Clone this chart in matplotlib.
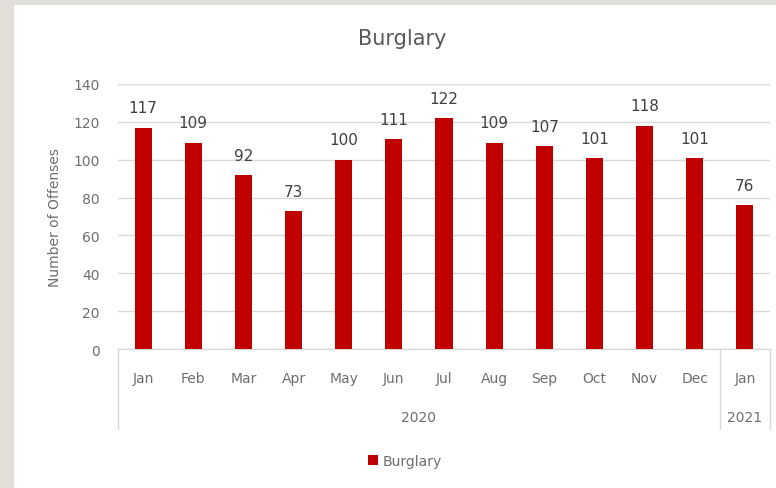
import matplotlib.pyplot as plt
from matplotlib.patches import Rectangle, Patch

# Data
months = ['Jan', 'Feb', 'Mar', 'Apr', 'May', 'Jun', 'Jul', 'Aug', 'Sep', 'Oct', 'Nov', 'Dec', 'Jan']
burglary = [117, 109, 92, 73, 100, 111, 122, 109, 107, 101, 118, 101, 76]
years = ['2020', '2021']
year_counts = [12, 1]
y_ticks = [0, 20, 40, 60, 80, 100, 120, 140]

bar_color = '#C00000'
text_color = '#6e6e6e'
grid_color = '#d9d9d9'

W, H = 776, 489
fig = plt.figure(figsize=(W / 100, H / 100), dpi=100)
fig.patch.set_facecolor('#e2dfda')

# white slide panel
fig.add_artist(Rectangle((14 / W, 0), 1 - 14 / W, 1 - 6 / H, transform=fig.transFigure,
                         facecolor='white', edgecolor='none', zorder=0))

# plot area in pixels: x 118..770, y 85..350
ax = fig.add_axes([118 / W, (H - 350) / H, 652 / W, 265 / H])
ax.set_facecolor('none')

x = list(range(len(months)))
ax.bar(x, burglary, width=0.34, color=bar_color, zorder=3)

for xi, v in zip(x, burglary):
    ax.text(xi, v + 6.5, str(v), ha='center', va='bottom', fontsize=11, color='#404040')

ax.set_xlim(-0.5, len(months) - 0.5)
ax.set_ylim(0, 140)
ax.set_yticks(y_ticks)
ax.set_yticklabels([str(t) for t in y_ticks], fontsize=10, color=text_color)
ax.tick_params(axis='y', length=0, pad=13)
ax.yaxis.grid(True, color=grid_color, linewidth=1)
ax.set_axisbelow(True)

ax.set_xticks(x)
ax.set_xticklabels(months, fontsize=10, color=text_color)
ax.tick_params(axis='x', length=0, pad=16)

for side in ['top', 'right', 'left']:
    ax.spines[side].set_visible(False)
ax.spines['bottom'].set_color(grid_color)
ax.spines['bottom'].set_linewidth(1)

ax.set_ylabel('Number of Offenses', fontsize=10, color=text_color, labelpad=8)

# multi-level category axis: year groups
trans = ax.get_xaxis_transform()
start = -0.5
bounds = [start]
for yr, n in zip(years, year_counts):
    end = start + n
    ax.text((start + end) / 2, -0.257, yr, transform=trans, ha='center', va='center',
            fontsize=10, color=text_color)
    bounds.append(end)
    start = end
for b in bounds:
    ax.plot([b, b], [0, -0.302], transform=trans, color=grid_color, linewidth=1, clip_on=False)

fig.text(402 / W, 1 - 39 / H, 'Burglary', ha='center', va='center', fontsize=15, color='#595959')

fig.legend(handles=[Patch(facecolor=bar_color, label='Burglary')], loc='center',
           bbox_to_anchor=(405 / W, 1 - 462 / H), frameon=False, fontsize=10,
           handlelength=0.7, handleheight=0.7, handletextpad=0.3, labelcolor=text_color)

fig.savefig('out.png', dpi=100)
